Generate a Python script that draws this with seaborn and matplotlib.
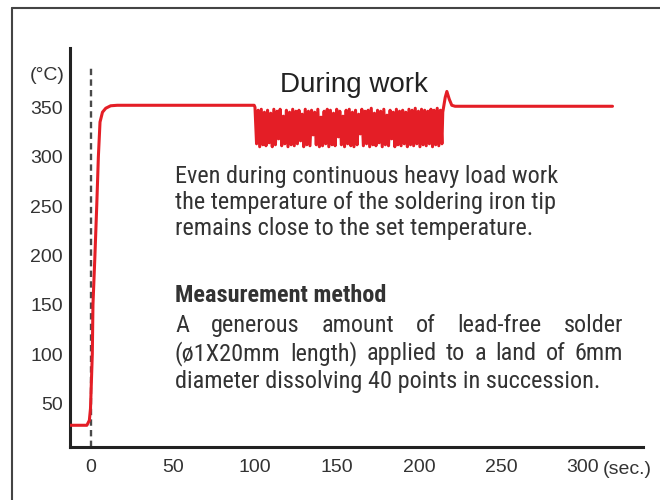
import matplotlib
matplotlib.use("Agg")
import matplotlib.pyplot as plt
import numpy as np
import seaborn as sns
from matplotlib import font_manager
from matplotlib.lines import Line2D

# temperature curve of the soldering tip (sec, deg C)
rise_time = [-13, -5, -2.5, -1, -0.3, 0.2, 0.8, 1.2, 2.4, 3.5, 4.5, 5.5, 7, 9, 12, 16, 99.5]
rise_temp = [28, 28, 28, 33, 45, 70, 100, 150, 200, 250, 300, 335, 345, 349, 351.5, 352, 352]

# during work: tip temperature swings
band_temp = [350, 313, 347, 310, 348, 312, 345, 311, 347, 314, 344, 310,
             348, 312, 346, 318, 348, 311, 341, 313, 347, 310, 345, 312,
             348, 311, 346, 313, 347, 316, 343, 310, 348, 312, 346, 311,
             347, 322, 345, 312, 348, 310, 340, 311, 346, 313, 348, 310,
             347, 312, 344, 311, 348, 320, 346, 312, 341, 310, 347, 313,
             348, 311, 345, 310, 347, 312, 343, 323, 348, 311, 346, 313,
             347, 310, 349, 312, 344, 311, 347, 314, 346, 310, 348, 312,
             342, 311, 347, 318, 345, 310, 348, 312, 346, 311, 347, 313,
             345, 310, 348, 312, 347, 311, 349, 313, 346, 310, 348, 312,
             347, 311, 346, 313, 348, 310, 347, 312, 349, 311, 347, 313]
band_start, band_end = 100, 214

after_time = [214.5, 216, 217, 218.5, 220, 222, 318]
after_temp = [345, 360, 366, 358, 352, 351, 351]

x_ticks = [0, 50, 100, 150, 200, 250, 300]
y_ticks = [50, 100, 150, 200, 250, 300, 350, 400]
y_tick_labels = ["50", "100", "150", "200", "250", "300", "350", ""]

band_time = np.linspace(band_start, band_end, len(band_temp))
time = np.concatenate([rise_time, band_time, after_time])
temp = np.concatenate([rise_temp, band_temp, after_temp])

sns.set_style("white")
names = {f.name for f in font_manager.fontManager.ttflist}
narrow = "Liberation Sans"
for cand in ["Liberation Sans Narrow", "Arial Narrow", "Roboto Condensed", "Open Sans Condensed"]:
    if cand in names:
        narrow = cand
        break
plt.rcParams["font.family"] = ["Liberation Sans", "DejaVu Sans"]

W, H = 660, 500
fig = plt.figure(figsize=(6.6, 5.0), dpi=100, facecolor="white")


def fx(px):
    return px / W


def fy(py):
    return 1 - py / H


ax = fig.add_axes([fx(70), fy(447), fx(643) - fx(70), fy(48) - fy(447)])
ax.patch.set_alpha(0)

ax.axvline(0, ymin=0, ymax=(393 - 6) / (410 - 6), color="#4a4a4a", lw=1.7,
           linestyle=(0, (2.7, 1.8)), zorder=1)
sns.lineplot(x=time, y=temp, ax=ax, color="#e41e26", lw=2.2, sort=False,
             estimator=None, zorder=3)

ax.set_xlim(-12.8, 336.6)
ax.set_ylim(6, 410)
ax.set_xticks(x_ticks)
ax.set_yticks(y_ticks)
ax.set_yticklabels(y_tick_labels)
ax.tick_params(axis="both", direction="in", length=5, width=1.5, colors="#222222",
               labelsize=14, labelcolor="#333333")
ax.tick_params(axis="y", pad=5)
ax.tick_params(axis="x", pad=9)
sns.despine(ax=ax)
for s in ("left", "bottom"):
    ax.spines[s].set_linewidth(2.2)
    ax.spines[s].set_color("#222222")
ax.set_xlabel("")
ax.set_ylabel("")

fig.text(fx(30), fy(80), "(°C)", fontsize=14, color="#333333", ha="left", va="baseline")
fig.text(fx(603), fy(474), "(sec.)", fontsize=14, color="#333333", ha="left", va="baseline")

fig.text(fx(280), fy(92), "During work", fontsize=20, color="#222222",
         ha="left", va="baseline")

# fit the body text to the width of the first line in the reference (383 px)
renderer = fig.canvas.get_renderer()
probe = fig.text(0, 0, "Even during continuous heavy load work", fontsize=18,
                 family=[narrow, "DejaVu Sans"])
body_size = 18 * 383 / probe.get_window_extent(renderer).width
probe.remove()

txt = dict(fontsize=body_size, color="#333333", ha="left", va="baseline",
           family=[narrow, "DejaVu Sans"])


def justified(line, x0, x1, y):
    words = line.split()
    arts = [fig.text(0, fy(y), w, **txt) for w in words]
    widths = [a.get_window_extent(renderer).width for a in arts]
    gap = (x1 - x0 - sum(widths)) / (len(words) - 1)
    x = x0
    for a, w in zip(arts, widths):
        a.set_x(fx(x))
        x += w + gap


fig.text(fx(175), fy(183), "Even during continuous heavy load work", **txt)
fig.text(fx(175), fy(209), "the temperature of the soldering iron tip", **txt)
fig.text(fx(175), fy(235), "remains close to the set temperature.", **txt)
fig.text(fx(175), fy(302), "Measurement method", fontweight="bold", **txt)
justified("A generous amount of lead-free solder", 175, 623, 332)
justified("(ø1X20mm length) applied to a land of 6mm", 175, 623, 360)
fig.text(fx(175), fy(388), "diameter dissolving 40 points in succession.", **txt)

# outer frame
fig.add_artist(Line2D([fx(12), fx(12)], [fy(8), 0], color="#444444", lw=1.5))
fig.add_artist(Line2D([fx(12), 1], [fy(8), fy(8)], color="#444444", lw=1.5))

fig.savefig("out.png", dpi=100, facecolor="white")
